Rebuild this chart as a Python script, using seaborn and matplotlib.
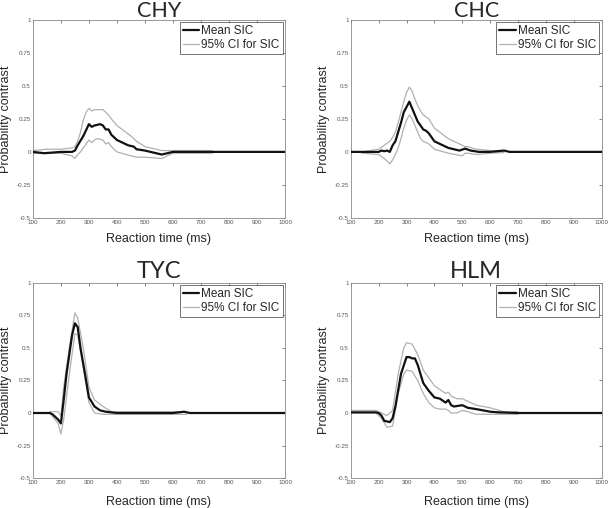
import numpy as np
import pandas as pd
import matplotlib
matplotlib.use("Agg")
import matplotlib.pyplot as plt
import seaborn as sns

sns.set_style("white")
plt.rcParams['font.family'] = ['Liberation Sans', 'DejaVu Sans']

# ---- data (RT in ms, SIC values) ----
# CHY
chy_x = [100, 140, 200, 240, 250, 260, 280, 300, 310, 320, 340, 350, 360, 370, 380, 400, 420, 440, 460, 470, 500, 520, 540, 560, 570, 580, 600, 650, 700, 1000]
chy_mean = [0.0, -0.01, 0.0, 0.0, 0.01, 0.05, 0.12, 0.21, 0.19, 0.2, 0.21, 0.2, 0.17, 0.17, 0.13, 0.09, 0.07, 0.05, 0.04, 0.02, 0.01, 0.0, -0.01, -0.02, -0.015, -0.01, 0.0, 0.0, 0.0, 0.0]
chy_ci_x = [100, 150, 200, 240, 250, 260, 270, 280, 290, 300, 310, 320, 330, 350, 360, 370, 380, 400, 450, 470, 500, 560, 580, 600, 650, 740]
chy_upper = [0.01, 0.02, 0.02, 0.03, 0.04, 0.08, 0.15, 0.24, 0.3, 0.33, 0.31, 0.32, 0.32, 0.32, 0.3, 0.28, 0.25, 0.2, 0.12, 0.08, 0.04, 0.01, 0.01, 0.01, 0.01, 0.01]
chy_lower = [-0.01, -0.01, -0.01, -0.03, -0.05, -0.02, 0.0, 0.03, 0.06, 0.09, 0.07, 0.09, 0.1, 0.09, 0.06, 0.07, 0.04, 0.0, -0.03, -0.04, -0.04, -0.05, -0.03, -0.01, -0.01, -0.01]

# CHC
chc_x = [100, 200, 210, 220, 230, 240, 250, 260, 270, 280, 290, 310, 320, 340, 360, 370, 380, 400, 420, 450, 490, 510, 530, 560, 600, 650, 670, 1000]
chc_mean = [0.0, 0.0, 0.01, 0.005, 0.01, 0.0, 0.05, 0.08, 0.15, 0.22, 0.3, 0.38, 0.33, 0.23, 0.17, 0.16, 0.14, 0.08, 0.06, 0.03, 0.01, 0.025, 0.01, 0.0, 0.0, 0.01, 0.0, 0.0]
chc_ci_x = [140, 200, 220, 240, 250, 260, 270, 280, 290, 300, 310, 320, 330, 340, 350, 360, 380, 400, 450, 500, 510, 520, 550, 600, 650]
chc_upper = [0.0, 0.02, 0.05, 0.08, 0.11, 0.15, 0.22, 0.3, 0.38, 0.45, 0.49, 0.46, 0.4, 0.35, 0.31, 0.28, 0.25, 0.18, 0.1, 0.05, 0.04, 0.04, 0.02, 0.01, 0.01]
chc_lower = [-0.01, -0.02, -0.05, -0.09, -0.06, -0.02, 0.03, 0.1, 0.18, 0.24, 0.28, 0.25, 0.2, 0.15, 0.1, 0.08, 0.06, 0.02, -0.01, -0.03, -0.01, -0.01, -0.02, -0.01, -0.005]

# TYC
tyc_x = [100, 160, 170, 180, 190, 200, 210, 220, 240, 250, 260, 270, 290, 300, 320, 340, 360, 400, 600, 640, 660, 1000]
tyc_mean = [0.0, 0.0, -0.01, -0.03, -0.05, -0.08, 0.1, 0.3, 0.6, 0.69, 0.66, 0.5, 0.25, 0.12, 0.05, 0.02, 0.01, 0.0, 0.0, 0.01, 0.0, 0.0]
tyc_ci_x = [160, 190, 200, 210, 230, 250, 260, 280, 300, 320, 350, 380, 600, 650]
tyc_upper = [0.01, 0.01, -0.02, 0.2, 0.5, 0.77, 0.73, 0.5, 0.2, 0.1, 0.05, 0.01, 0.01, 0.01]
tyc_lower = [0.0, -0.08, -0.16, -0.05, 0.3, 0.61, 0.6, 0.35, 0.08, 0.0, -0.01, -0.01, -0.01, -0.01]

# HLM
hlm_x = [100, 190, 200, 210, 220, 240, 250, 260, 280, 300, 310, 320, 330, 340, 350, 360, 380, 400, 420, 440, 450, 460, 470, 500, 520, 550, 600, 630, 700, 1000]
hlm_mean = [0.005, 0.005, 0.0, -0.02, -0.06, -0.07, -0.04, 0.05, 0.3, 0.43, 0.43, 0.42, 0.42, 0.37, 0.3, 0.23, 0.17, 0.12, 0.11, 0.08, 0.1, 0.06, 0.05, 0.06, 0.04, 0.03, 0.01, 0.005, 0.0, 0.0]
hlm_ci_x = [100, 190, 210, 230, 250, 270, 290, 300, 320, 340, 360, 380, 400, 420, 440, 450, 460, 480, 500, 520, 550, 600, 650, 700]
hlm_upper = [0.02, 0.02, 0.0, -0.02, 0.02, 0.3, 0.5, 0.54, 0.53, 0.45, 0.33, 0.27, 0.21, 0.18, 0.15, 0.16, 0.13, 0.11, 0.11, 0.09, 0.06, 0.04, 0.01, 0.01]
hlm_lower = [0.0, 0.0, -0.04, -0.11, -0.1, 0.15, 0.3, 0.33, 0.32, 0.25, 0.15, 0.08, 0.04, 0.03, 0.03, 0.02, 0.0, 0.0, 0.02, 0.01, -0.01, -0.01, -0.01, -0.01]

panels = [
    ("CHY", chy_x, chy_mean, chy_ci_x, chy_upper, chy_lower),
    ("CHC", chc_x, chc_mean, chc_ci_x, chc_upper, chc_lower),
    ("TYC", tyc_x, tyc_mean, tyc_ci_x, tyc_upper, tyc_lower),
    ("HLM", hlm_x, hlm_mean, hlm_ci_x, hlm_upper, hlm_lower),
]

positions = [
    [0.054, 0.571, 0.414, 0.390],
    [0.576, 0.571, 0.412, 0.390],
    [0.054, 0.059, 0.414, 0.384],
    [0.576, 0.059, 0.412, 0.384],
]
xlabel_pads = [6, 6, 8, 8]
title_sizes = [15.5, 15.5, 17, 17]
title_pads = [2, 2, 3.5, 3.5]

fig = plt.figure(figsize=(6.09, 5.08), dpi=100)

for i, (name, x, m, cx, up, lo) in enumerate(panels):
    ax = fig.add_axes(positions[i])
    sns.lineplot(x=x, y=m, ax=ax, color="#111111", linewidth=1.6, label="Mean SIC", zorder=3)
    sns.lineplot(x=cx, y=up, ax=ax, color="#b0b0b0", linewidth=0.9, label="95% CI for SIC", zorder=2)
    sns.lineplot(x=cx, y=lo, ax=ax, color="#b0b0b0", linewidth=0.9, zorder=2)
    ax.set_xlim(100, 1000)
    ax.set_ylim(-0.5, 1)
    ax.set_xticks(range(100, 1001, 100))
    ax.set_yticks([-0.5, -0.25, 0, 0.25, 0.5, 0.75, 1])
    ax.set_yticklabels(["-0.5", "-0.25", "0", "0.25", "0.5", "0.75", "1"])
    ax.tick_params(direction="in", length=2, width=0.5, labelsize=4.5, pad=1.5,
                   top=True, right=True, colors="#555555")
    for s in ax.spines.values():
        s.set_linewidth(0.6)
        s.set_color("#888888")
    ax.set_title(name, fontsize=title_sizes[i], family=["Lato", "DejaVu Sans"], pad=title_pads[i])
    ax.set_xlabel("Reaction time (ms)", fontsize=9, labelpad=xlabel_pads[i])
    ax.set_ylabel("Probability contrast", fontsize=9, labelpad=3)
    leg = ax.legend(loc="upper right", fontsize=8.5, frameon=True, fancybox=False,
                    handlelength=1.4, handletextpad=0.2, borderpad=0.25,
                    labelspacing=0.15, borderaxespad=0.2)
    leg.get_frame().set_edgecolor("#333333")
    leg.get_frame().set_linewidth(0.6)

fig.savefig("out.png", dpi=100)
